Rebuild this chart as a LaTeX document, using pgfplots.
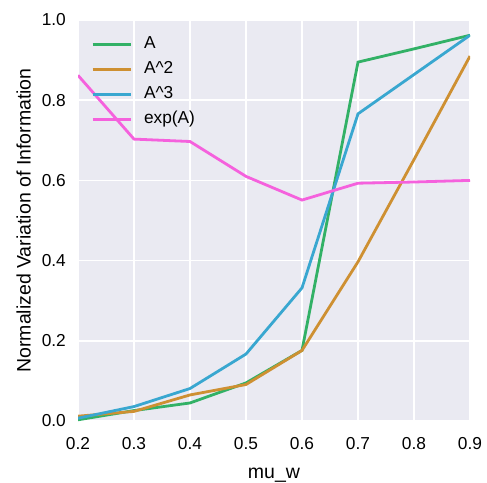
\documentclass[border=0pt]{standalone}
\usepackage{fontspec}
\setmainfont{Liberation Sans}
\usepackage{pgfplots}
\pgfplotsset{compat=1.18}

\definecolor{panel}{HTML}{EAEAF2}
\definecolor{cA}{HTML}{32B166}
\definecolor{cAsq}{HTML}{CE9032}
\definecolor{cAcu}{HTML}{39A7D0}
\definecolor{cExp}{HTML}{F561DD}

\newcommand{\tickfont}{\fontsize{17.3bp}{20bp}\selectfont}
\newcommand{\labelfont}{\fontsize{19.5bp}{23bp}\selectfont}

\begin{document}
\begin{tikzpicture}
\begin{axis}[
  scale only axis,
  width=392bp, height=401bp,
  xmin=0.2, xmax=0.9, ymin=0, ymax=1,
  axis background/.style={fill=panel},
  axis line style={draw=none},
  major tick length=0pt,
  grid=major,
  grid style={white, line width=1.4bp},
  xtick={0.2,0.3,0.4,0.5,0.6,0.7,0.8,0.9},
  ytick={0,0.2,0.4,0.6,0.8,1.0},
  /pgf/number format/assume math mode=true,
  xticklabel={\pgfmathprintnumber[fixed,fixed zerofill,precision=1]{\tick}},
  yticklabel={\pgfmathprintnumber[fixed,fixed zerofill,precision=1]{\tick}},
  xticklabel style={font=\tickfont, anchor=north, inner sep=0pt, yshift=-16bp},
  yticklabel style={font=\tickfont, anchor=east, inner sep=0pt, xshift=-12bp},
  xlabel={mu\_w},
  ylabel={Normalized Variation of Information},
  xlabel style={font=\labelfont, at={(axis description cs:0.5,-0.1446)}, anchor=base},
  ylabel style={font=\labelfont, at={(axis description cs:-0.1207,0.5)}, rotate=0, anchor=base},
  every axis plot/.append style={line width=2.8bp, mark=none},
  legend cell align=left,
  legend image code/.code={
    \path[use as bounding box, draw=none, fill=none] (0bp,-6bp) rectangle (38bp,6bp);
    \draw[#1, line width=2.8bp] (0bp,-1bp) -- (38bp,-1bp);},
  legend style={
    at={(rel axis cs:0,1)}, anchor=north west,
    xshift=14.5bp, yshift=-16.3bp,
    draw=none, fill=none, inner sep=0pt, outer sep=0pt,
    font=\tickfont, row sep=10bp,
    nodes={inner sep=0pt, text height=12bp, text depth=3bp},
    /tikz/every odd column/.append style={column sep=13.5bp},
  },
  clip mode=individual,
]
\addplot[cA] coordinates {
  (0.2,0.003) (0.3,0.026) (0.4,0.045) (0.5,0.095)
  (0.6,0.176) (0.7,0.895) (0.8,0.928) (0.9,0.962)};
\addlegendentry{A}
\addplot[cAsq] coordinates {
  (0.2,0.012) (0.3,0.024) (0.4,0.065) (0.5,0.091)
  (0.6,0.176) (0.7,0.397) (0.8,0.652) (0.9,0.910)};
\addlegendentry{A\textasciicircum 2}
\addplot[cAcu] coordinates {
  (0.2,0.007) (0.3,0.036) (0.4,0.081) (0.5,0.167)
  (0.6,0.332) (0.7,0.766) (0.8,0.864) (0.9,0.962)};
\addlegendentry{A\textasciicircum 3}
\addplot[cExp] coordinates {
  (0.2,0.862) (0.3,0.703) (0.4,0.697) (0.5,0.610)
  (0.6,0.551) (0.7,0.593) (0.8,0.596) (0.9,0.600)};
\addlegendentry{exp(A)}
\coordinate (plotSW) at (rel axis cs:0,0);
\coordinate (plotNE) at (rel axis cs:1,1);
\end{axis}
\pgfresetboundingbox
\path ([shift={(-78bp,-61bp)}]plotSW) rectangle ([shift={(17bp,20bp)}]plotNE);
\end{tikzpicture}
\end{document}
